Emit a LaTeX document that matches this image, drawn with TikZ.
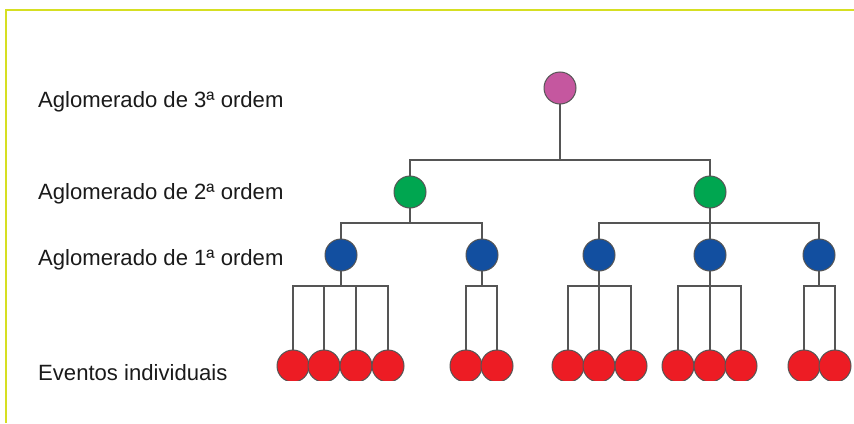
\documentclass[tikz,border=0pt]{standalone}
\usepackage{fontspec}
\setmainfont{Liberation Sans}
\definecolor{frameyellow}{HTML}{D6DF22}
\definecolor{cmag}{HTML}{C5579F}
\definecolor{cgreen}{HTML}{00A650}
\definecolor{cblue}{HTML}{124FA0}
\definecolor{cred}{HTML}{ED1C24}
\definecolor{cline}{HTML}{555555}
\definecolor{ctext}{HTML}{1A1A1A}
\tikzset{
  dot/.style={circle, draw=cline, line width=1pt, minimum size=32pt, inner sep=0pt},
  link/.style={draw=cline, line width=1.6pt},
  lbl/.style={anchor=base west, inner sep=0pt, text=ctext, font=\fontsize{22.1}{26}\selectfont}
}
\begin{document}
\begin{tikzpicture}[x=1pt,y=-1pt]
\useasboundingbox (0,0) rectangle (854,423);
% frame
\draw[frameyellow, line width=2.2pt] (6,423) -- (6,10) -- (854,10);
% labels
\node[lbl] (t3) at (38,107) {Aglomerado de 3ª ordem};
\node[lbl] (t2) at (38,199) {Aglomerado de 2ª ordem};
\node[lbl] (t1) at (38,265) {Aglomerado de 1ª ordem};
\node[lbl] (t0) at (38,380) {Eventos individuais};
% node positions
\coordinate (mag) at (560,88);
\coordinate (g1) at (410,192);
\coordinate (g2) at (710,192);
\coordinate (b1) at (341,255);
\coordinate (b2) at (482,255);
\coordinate (b3) at (599,255);
\coordinate (b4) at (710,255);
\coordinate (b5) at (819,255);
\foreach \n/\x in {1/293,2/324,3/356,4/388,5/466,6/497,7/568,8/599,9/631,10/678,11/710,12/741,13/804,14/835}
  \coordinate (r\n) at (\x,366);
\coordinate (bar3) at (0,160);
\coordinate (bar2) at (0,223);
\coordinate (bar1) at (0,286);
% connectors
\draw[link] (mag) -- (mag|-bar3) -| (g1);
\draw[link] (mag|-bar3) -| (g2);
\draw[link] (g1) -- (g1|-bar2) -| (b1);
\draw[link] (g1|-bar2) -| (b2);
\draw[link] (g2) -- (b4);
\draw[link] (b3) |- (b5|-bar2) -- (b5);
% leaves
\draw[link] (b1) -- (b1|-bar1);
\draw[link] (r1) |- (r4|-bar1) -- (r4);
\draw[link] (r2) -- (r2|-bar1);
\draw[link] (r3) -- (r3|-bar1);
\draw[link] (b2) -- (b2|-bar1);
\draw[link] (r5) |- (r6|-bar1) -- (r6);
\draw[link] (r7) |- (r9|-bar1) -- (r9);
\draw[link] (r8) -- (b3);
\draw[link] (r10) |- (r12|-bar1) -- (r12);
\draw[link] (r11) -- (b4);
\draw[link] (b5) -- (b5|-bar1);
\draw[link] (r13) |- (r14|-bar1) -- (r14);
% circles
\node[dot, fill=cmag] (nmag) at (mag) {};
\node[dot, fill=cgreen] (ng1) at (g1) {};
\node[dot, fill=cgreen] (ng2) at (g2) {};
\foreach \n in {1,...,5} \node[dot, fill=cblue] (nb\n) at (b\n) {};
\begin{scope}
\clip (250,0) rectangle (854,380);
\foreach \n in {1,...,14} \node[dot, fill=cred] (nr\n) at (r\n) {};
\end{scope}
\end{tikzpicture}
\end{document}
